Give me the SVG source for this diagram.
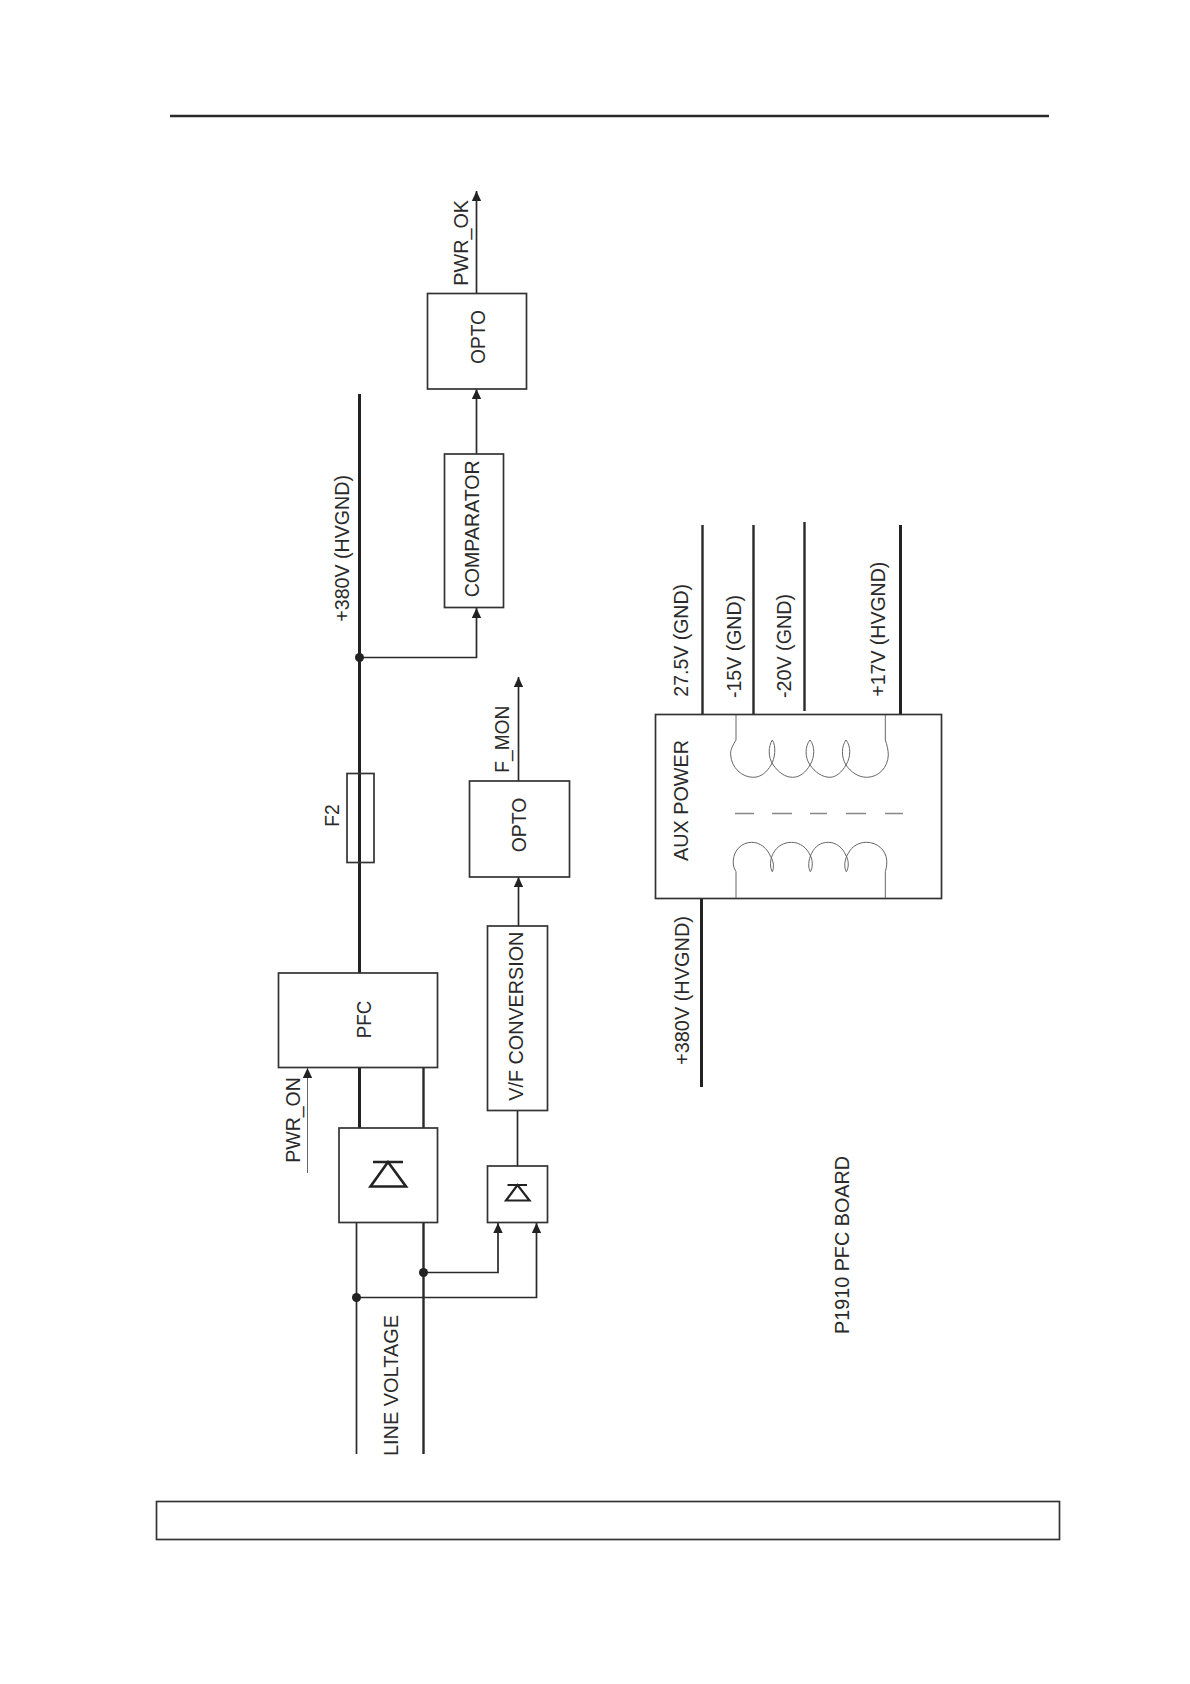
<svg xmlns="http://www.w3.org/2000/svg" width="1190" height="1684" viewBox="0 0 1190 1684">
<style>
.b{fill:none;stroke:#333;stroke-width:1.7}
.l{fill:none;stroke:#2a2a2a;stroke-width:1.7}
.m{fill:none;stroke:#2a2a2a;stroke-width:2.4}
.h{fill:none;stroke:#222;stroke-width:3}
.c{fill:none;stroke:#666;stroke-width:1}
.t{font-family:"Liberation Sans",Arial,sans-serif;font-size:21px;fill:#2a2a2a}
.d{fill:#222}
</style>
<defs>
<marker id="a" markerUnits="userSpaceOnUse" markerWidth="11" markerHeight="11" refX="10" refY="5.500" orient="auto"><path d="M0 0.800L10 5.500L0 10.200Z" fill="#222"/></marker>
</defs>
<rect width="1190" height="1684" fill="#fff"/>
<g id="page-frame">
<path class="m" d="M170 116H1049"/>
<rect class="b" x="156.500" y="1501.500" width="903" height="38"/>
</g>
<g id="connectors">
<path class="h" d="M359.500 394V973M359.500 1068V1128M701.500 899V1087M900.500 525V715"/>
<path class="m" d="M423.500 1068V1128M423.500 1223V1454M702.500 525V715M753.500 525V715M804.500 522V711"/>
<path class="l" d="M356.500 1223V1454"/>
<path class="l" d="M359.500 657.500H476.500V608" marker-end="url(#a)"/>
<path class="l" d="M476.500 454V389" marker-end="url(#a)"/>
<path class="l" d="M476.500 293.500V191" marker-end="url(#a)"/>
<path class="l" d="M518.500 926V877" marker-end="url(#a)"/>
<path class="l" d="M518.500 781V677" marker-end="url(#a)"/>
<path class="l" d="M517.500 1166V1110"/>
<path class="l" d="M423.500 1272.500H498V1223" marker-end="url(#a)"/>
<path class="l" d="M356.500 1297.500H536.500V1223" marker-end="url(#a)"/>
<path d="M307.500 1173V1068" fill="none" stroke="#666" stroke-width="1" marker-end="url(#a)"/>
<circle class="d" cx="359.500" cy="657.500" r="4.500"/>
<circle class="d" cx="423.500" cy="1272.500" r="4.500"/>
<circle class="d" cx="356.500" cy="1297.500" r="4.500"/>
</g>
<g id="opto-1"><rect class="b" x="427.500" y="293.500" width="99" height="95.500"/><text class="t" transform="translate(484.700 364) rotate(-90)" textLength="54" lengthAdjust="spacingAndGlyphs">OPTO</text></g>
<g id="comparator"><rect class="b" x="444.500" y="454" width="59" height="153.500"/><text class="t" transform="translate(479.300 597.300) rotate(-90)" textLength="137" lengthAdjust="spacingAndGlyphs">COMPARATOR</text></g>
<g id="fuse-f2"><rect class="b" x="347" y="773.500" width="27" height="89"/><text class="t" transform="translate(339.300 826.700) rotate(-90)" textLength="22.400" lengthAdjust="spacingAndGlyphs">F2</text></g>
<g id="opto-2"><rect class="b" x="469.500" y="781" width="100" height="96"/><text class="t" transform="translate(525.700 852.300) rotate(-90)" textLength="54.600" lengthAdjust="spacingAndGlyphs">OPTO</text></g>
<g id="vf-conversion"><rect class="b" x="487.500" y="926" width="60" height="184.500"/><text class="t" transform="translate(523.300 1100.700) rotate(-90)" textLength="169" lengthAdjust="spacingAndGlyphs">V/F CONVERSION</text></g>
<g id="pfc"><rect class="b" x="278.500" y="973" width="159" height="94.500"/><text class="t" transform="translate(370.700 1038.300) rotate(-90)" textLength="37.600" lengthAdjust="spacingAndGlyphs">PFC</text></g>
<g id="bridge"><rect class="b" x="339" y="1128" width="98.500" height="94.500"/><path fill="none" stroke="#222" stroke-width="2.600" d="M373 1162H403M388 1162L370.500 1186.500H406Z"/></g>
<g id="small-rectifier"><rect class="b" x="487.500" y="1166" width="60" height="56.500"/><path fill="none" stroke="#222" stroke-width="2.200" d="M507.500 1185H527M517.500 1185L506 1200.500H529.500Z"/></g>
<g id="aux-power">
<rect class="b" x="655.500" y="714.500" width="286" height="184"/>
<text class="t" transform="translate(687.700 861) rotate(-90)" textLength="121" lengthAdjust="spacingAndGlyphs">AUX POWER</text>
<path class="c" d="M736 715V740C733 745 730 750 730.700 755C731.500 768 742 777.300 753.300 777.300C761 777.300 767 772 771 765C775 759 776.500 746 772.300 740C768.500 746 767.500 757 773.300 765C778 772 785 777.300 792.700 777.300C800 777.300 806 772 810 765C815 757 815 746 810 740C805 746 804.500 757 810 765C815 772 822 777.300 830 777.300C836 777.300 842 772 846 765C851 757 851 746 846 740C841.500 746 841 757 846 765C851 772 858 777.300 866.700 777.300C879 777.300 888 767 888.300 755C888.300 750 887 745 885.300 740V715"/>
<path class="c" d="M736 898V871.700C733.500 868 733 864 733.300 860C734 850 742 842.300 751.700 842.300C760 842.300 767 848 770.700 856.700C774 862 774 868 772.300 871.700C770 868 769.500 860 773.300 853.300C777 846 784 842.300 791.700 842.300C800 842.300 807 848 810 855C813 860 813 868 810.300 871.700C808 868 808 860 811.700 853.300C815 846 821 842.300 828.300 842.300C836 842.300 843 848 845.700 855C849 860 849 868 846.300 871.700C844 868 844 860 848.300 853.300C852 846 859 842.300 866.700 842.300C877 842.300 886 850 886.700 860C887 864 886.500 868 885.300 871.700V898"/>
<path fill="none" stroke="#888" stroke-width="1.500" d="M735 813.500H754M772 813.500H792M810 813.500H827M846 813.500H866M885 813.500H903"/>
</g>
<g id="labels">
<text class="t" transform="translate(467.700 285.700) rotate(-90)" textLength="85.700" lengthAdjust="spacingAndGlyphs">PWR_OK</text>
<text class="t" transform="translate(349.300 621.700) rotate(-90)" textLength="146.700" lengthAdjust="spacingAndGlyphs">+380V (HVGND)</text>
<text class="t" transform="translate(508.700 772.700) rotate(-90)" textLength="67" lengthAdjust="spacingAndGlyphs">F_MON</text>
<text class="t" transform="translate(300 1162.700) rotate(-90)" textLength="85.400" lengthAdjust="spacingAndGlyphs">PWR_ON</text>
<text class="t" transform="translate(398.300 1456) rotate(-90)" textLength="141" lengthAdjust="spacingAndGlyphs">LINE VOLTAGE</text>
<text class="t" transform="translate(689 1065) rotate(-90)" textLength="149" lengthAdjust="spacingAndGlyphs">+380V (HVGND)</text>
<text class="t" transform="translate(687.700 696.700) rotate(-90)" textLength="112.700" lengthAdjust="spacingAndGlyphs">27.5V (GND)</text>
<text class="t" transform="translate(741 698) rotate(-90)" textLength="103" lengthAdjust="spacingAndGlyphs">-15V (GND)</text>
<text class="t" transform="translate(791 698) rotate(-90)" textLength="104" lengthAdjust="spacingAndGlyphs">-20V (GND)</text>
<text class="t" transform="translate(885 696.700) rotate(-90)" textLength="135" lengthAdjust="spacingAndGlyphs">+17V (HVGND)</text>
<text class="t" transform="translate(849 1334) rotate(-90)" textLength="178" lengthAdjust="spacingAndGlyphs">P1910 PFC BOARD</text>
</g>
</svg>
